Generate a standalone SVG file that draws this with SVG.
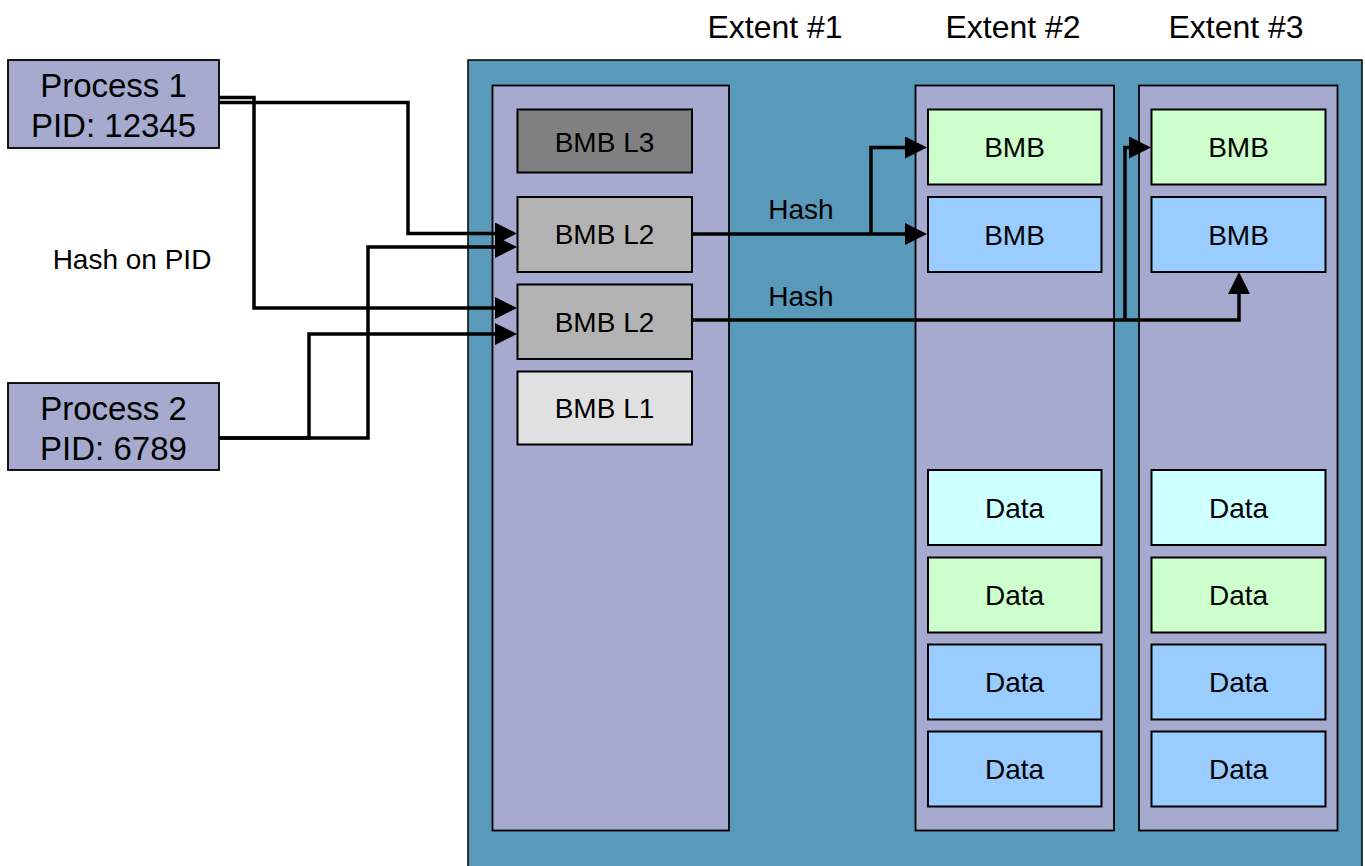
<svg xmlns="http://www.w3.org/2000/svg" width="1365" height="866" viewBox="0 0 1365 866">
<style>
.t{font-family:"Liberation Sans",Arial,sans-serif;fill:#000;text-anchor:middle}
.big{font-size:32px}
.pr{font-size:33px}
.sm{font-size:28px}
.box{stroke:#000;stroke-width:2}
.col{fill:#A5AACE;stroke:#000;stroke-width:1.8}
.proc{fill:#A5AACE;stroke:#000;stroke-width:1.8}
.g{fill:#CCFFCC}.b{fill:#99CCFF}.c{fill:#CCFFFF}
.l3{fill:#808080}.l2{fill:#B3B3B3}.l1{fill:#E0E0E0}
.conn{fill:none;stroke:#000;stroke-width:3.5;marker-end:url(#arr)}
</style>
<defs>
<marker id="arr" markerUnits="userSpaceOnUse" markerWidth="22" markerHeight="22" refX="12" refY="11" orient="auto">
<path d="M0,0 L22,11 L0,22 Z" fill="#000"/>
</marker>
</defs>
<rect width="1365" height="866" fill="#fff"/>

<g id="storage">
<rect x="468" y="60" width="894" height="830" fill="#5999B9" stroke="#000" stroke-width="1.5"/>
</g>

<g id="labels">
<text class="t big" x="775" y="38">Extent #1</text>
<text class="t big" x="1013" y="38">Extent #2</text>
<text class="t big" x="1236" y="38">Extent #3</text>
<text class="t sm" x="132" y="269">Hash on PID</text>
<text class="t sm" x="801" y="219">Hash</text>
<text class="t sm" x="801" y="306">Hash</text>
</g>

<g id="process1">
<rect class="proc" x="8" y="60" width="211" height="88"/>
<text class="t pr" x="113.5" y="96.5">Process 1</text>
<text class="t pr" x="113.5" y="136.5">PID: 12345</text>
</g>
<g id="process2">
<rect class="proc" x="8" y="383" width="211" height="87"/>
<text class="t pr" x="113.5" y="419.5">Process 2</text>
<text class="t pr" x="113.5" y="459.5">PID: 6789</text>
</g>

<g id="extent1">
<rect class="col" x="492.5" y="85.5" width="236.5" height="745"/>
<g id="bmb-l3"><rect class="box l3" x="517.5" y="109.5" width="174.5" height="63"/><text class="t sm" x="604.5" y="151.5">BMB L3</text></g>
<g id="bmb-l2a"><rect class="box l2" x="517.5" y="197" width="174.5" height="75"/><text class="t sm" x="604.5" y="244">BMB L2</text></g>
<g id="bmb-l2b"><rect class="box l2" x="517.5" y="284.5" width="174.5" height="74.5"/><text class="t sm" x="604.5" y="331.5">BMB L2</text></g>
<g id="bmb-l1"><rect class="box l1" x="517.5" y="371.5" width="174.5" height="73"/><text class="t sm" x="604.5" y="418">BMB L1</text></g>
</g>

<g id="extent2">
<rect class="col" x="915.5" y="85.5" width="198.5" height="745"/>
<g id="e2-bmb1"><rect class="box g" x="928" y="109.5" width="173.5" height="75"/><text class="t sm" x="1014.5" y="157">BMB</text></g>
<g id="e2-bmb2"><rect class="box b" x="928" y="197" width="173.5" height="75"/><text class="t sm" x="1014.5" y="244.5">BMB</text></g>
<g id="e2-d1"><rect class="box c" x="928" y="470" width="173.5" height="75"/><text class="t sm" x="1014.5" y="517.5">Data</text></g>
<g id="e2-d2"><rect class="box g" x="928" y="557.5" width="173.5" height="75"/><text class="t sm" x="1014.5" y="605">Data</text></g>
<g id="e2-d3"><rect class="box b" x="928" y="644.5" width="173.5" height="75"/><text class="t sm" x="1014.5" y="692">Data</text></g>
<g id="e2-d4"><rect class="box b" x="928" y="731.5" width="173.5" height="75"/><text class="t sm" x="1014.5" y="779">Data</text></g>
</g>

<g id="extent3">
<rect class="col" x="1139" y="85.5" width="198.5" height="745"/>
<g id="e3-bmb1"><rect class="box g" x="1151.5" y="109.5" width="174" height="75"/><text class="t sm" x="1238.5" y="157">BMB</text></g>
<g id="e3-bmb2"><rect class="box b" x="1151.5" y="197" width="174" height="75"/><text class="t sm" x="1238.5" y="244.5">BMB</text></g>
<g id="e3-d1"><rect class="box c" x="1151.5" y="470" width="174" height="75"/><text class="t sm" x="1238.5" y="517.5">Data</text></g>
<g id="e3-d2"><rect class="box g" x="1151.5" y="557.5" width="174" height="75"/><text class="t sm" x="1238.5" y="605">Data</text></g>
<g id="e3-d3"><rect class="box b" x="1151.5" y="644.5" width="174" height="75"/><text class="t sm" x="1238.5" y="692">Data</text></g>
<g id="e3-d4"><rect class="box b" x="1151.5" y="731.5" width="174" height="75"/><text class="t sm" x="1238.5" y="779">Data</text></g>
</g>

<g id="connectors">
<path class="conn" d="M219,97.5 H254 V308 H507"/>
<path class="conn" d="M219,102.5 H408 V233.5 H507"/>
<path class="conn" d="M219,438 H309 V334 H507"/>
<path class="conn" d="M219,438 H368 V247 H507"/>
<path class="conn" d="M692,234 H917"/>
<path class="conn" d="M871,234 V147.5 H917"/>
<path class="conn" d="M692,320 H1239 V282"/>
<path class="conn" d="M1125,320 V147.5 H1141"/>
</g>
</svg>
